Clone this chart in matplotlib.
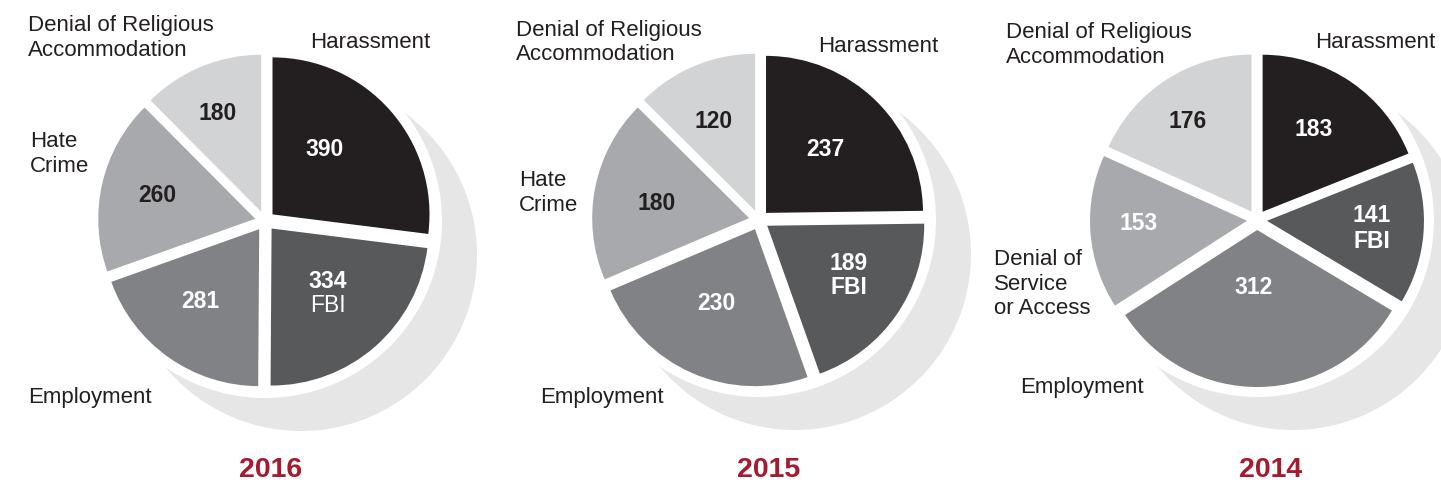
import matplotlib.pyplot as plt
from matplotlib.patches import Circle

# data (clockwise from 12 o'clock)
years = ['2016', '2015', '2014']
labels_2016 = ['Harassment', 'FBI', 'Employment', 'Hate\nCrime', 'Denial of Religious\nAccommodation']
labels_2015 = ['Harassment', 'FBI', 'Employment', 'Hate\nCrime', 'Denial of Religious\nAccommodation']
labels_2014 = ['Harassment', 'FBI', 'Employment', 'Denial of\nService\nor Access', 'Denial of Religious\nAccommodation']
values_2016 = [390, 334, 281, 260, 180]
values_2015 = [237, 189, 230, 180, 120]
values_2014 = [183, 141, 312, 153, 176]

colors = ['#231f20', '#58595b', '#808285', '#a7a9ac', '#d1d3d4']
dark = '#231f20'
shadow = '#e6e6e7'
red = '#a6192e'

# layout (pixel coords, y up)
W, H = 1441, 483
R = 157
centers = [(265, 262), (759, 263), (1257, 263)]
cat_pos = [
    [(310, 440), None, (28, 86), (30, 329), (28, 445)],
    [(818, 437), None, (540, 86), (519, 290), (516, 440.5)],
    [(1315, 440), None, (1020, 96), (994, 199), (1006, 438)],
]
val_pos = [
    [(325, 334), (328, 202), (200, 182), (157, 288), (218, 370)],
    [(825, 334), (849, 220), (716, 180), (657, 280), (714, 361)],
    [(1314, 353), (1372, 267), (1254, 196), (1139, 259), (1188, 361)],
]
val_colors = [
    ['white', 'white', 'white', dark, dark],
    ['white', 'white', 'white', dark, dark],
    ['white', 'white', 'white', 'white', dark],
]
fbi_bold = [False, True, True]

plt.rcParams['font.family'] = ['Liberation Sans', 'DejaVu Sans']

fig = plt.figure(figsize=(W / 100, H / 100), dpi=100)
ax = fig.add_axes([0, 0, 1, 1])

all_values = [values_2016, values_2015, values_2014]
all_labels = [labels_2016, labels_2015, labels_2014]

for i, year in enumerate(years):
    cx, cy = centers[i]
    ax.add_patch(Circle((cx + 36, cy - 34), 176, color=shadow, lw=0, zorder=0))
    ax.add_patch(Circle((cx, cy), 177, color='white', lw=0, zorder=1))
    wedges, _ = ax.pie(all_values[i], radius=R, center=(cx, cy), startangle=90,
                       counterclock=False, explode=[10] * 5, colors=colors,
                       wedgeprops=dict(linewidth=0))
    for w in wedges:
        w.set_zorder(2)

    for j, lab in enumerate(all_labels[i]):
        if cat_pos[i][j] is not None:
            x, y = cat_pos[i][j]
            ax.text(x, y, lab, fontsize=16, color=dark, ha='left', va='center',
                    linespacing=1.2, zorder=3)
        vx, vy = val_pos[i][j]
        ax.text(vx, vy, str(all_values[i][j]), fontsize=16.5, fontweight='bold',
                color=val_colors[i][j], ha='center', va='center', zorder=3)
        if lab == 'FBI':
            ax.text(vx, vy - 25, 'FBI', fontsize=16.5,
                    fontweight='bold' if fbi_bold[i] else 'normal',
                    color='white', ha='center', va='center', zorder=3)

    ax.text(cx + 6 + 4 * i, 13, year, fontsize=20.5, fontweight='bold', color=red,
            ha='center', va='center')

ax.set_xlim(0, W)
ax.set_ylim(0, H)
ax.set_aspect('auto')
ax.axis('off')

fig.savefig('out.png', dpi=100)
